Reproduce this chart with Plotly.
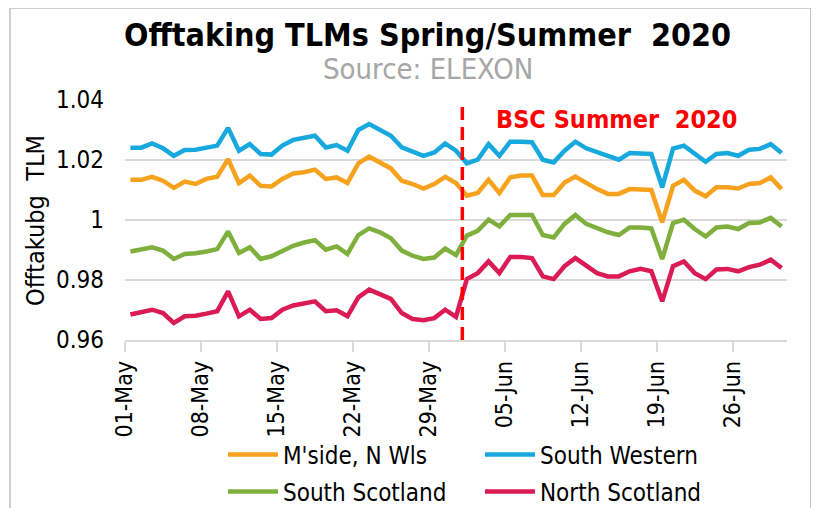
import pandas as pd
import plotly.graph_objects as go

start_date = "2020-05-01"
n_days = 61

south_western = [1.0241, 1.0241, 1.0255, 1.0239, 1.0214, 1.0233, 1.0234, 1.0241, 1.0248, 1.0307,
                 1.0231, 1.0253, 1.0220, 1.0218, 1.0248, 1.0267, 1.0273, 1.0281, 1.0242, 1.0250,
                 1.0231, 1.0300, 1.0320, 1.0300, 1.0281, 1.0242, 1.0229, 1.0214, 1.0225, 1.0255,
                 1.0231, 1.0189, 1.0201, 1.0253, 1.0214, 1.0261, 1.0261, 1.0259, 1.0201, 1.0192,
                 1.0231, 1.0261, 1.0239, 1.0225, 1.0211, 1.0201, 1.0223, 1.0223, 1.0220, 1.0109,
                 1.0238, 1.0248, 1.0220, 1.0194, 1.0220, 1.0223, 1.0214, 1.0234, 1.0237, 1.0253, 1.0223]

mside_n_wls = [1.0134, 1.0134, 1.0144, 1.0131, 1.0107, 1.0128, 1.0120, 1.0137, 1.0144, 1.0203,
               1.0123, 1.0148, 1.0114, 1.0112, 1.0137, 1.0155, 1.0159, 1.0168, 1.0137, 1.0142,
               1.0123, 1.0189, 1.0211, 1.0192, 1.0172, 1.0131, 1.0120, 1.0105, 1.0120, 1.0144,
               1.0123, 1.0081, 1.0090, 1.0134, 1.0090, 1.0142, 1.0148, 1.0148, 1.0083, 1.0083,
               1.0125, 1.0145, 1.0123, 1.0103, 1.0087, 1.0087, 1.0103, 1.0103, 1.0100, 0.9992,
               1.0114, 1.0134, 1.0098, 1.0079, 1.0109, 1.0109, 1.0105, 1.0120, 1.0123, 1.0142, 1.0103]

south_scotland = [0.9895, 0.9903, 0.9909, 0.9898, 0.9870, 0.9887, 0.9889, 0.9895, 0.9903, 0.9962,
                  0.9890, 0.9909, 0.9870, 0.9879, 0.9898, 0.9914, 0.9925, 0.9933, 0.9901, 0.9912,
                  0.9887, 0.9950, 0.9972, 0.9959, 0.9939, 0.9898, 0.9881, 0.9870, 0.9875, 0.9905,
                  0.9883, 0.9948, 0.9964, 1.0001, 0.9979, 1.0017, 1.0017, 1.0017, 0.9950, 0.9942,
                  0.9987, 1.0017, 0.9987, 0.9972, 0.9959, 0.9950, 0.9975, 0.9975, 0.9972, 0.9870,
                  0.9990, 1.0001, 0.9970, 0.9945, 0.9975, 0.9978, 0.9970, 0.9990, 0.9992, 1.0007, 0.9978]

north_scotland = [0.9685, 0.9692, 0.9701, 0.9690, 0.9657, 0.9679, 0.9681, 0.9688, 0.9696, 0.9762,
                  0.9679, 0.9701, 0.9670, 0.9673, 0.9701, 0.9715, 0.9723, 0.9729, 0.9696, 0.9699,
                  0.9679, 0.9742, 0.9768, 0.9753, 0.9737, 0.9690, 0.9670, 0.9666, 0.9673, 0.9701,
                  0.9677, 0.9803, 0.9823, 0.9862, 0.9823, 0.9877, 0.9877, 0.9873, 0.9812, 0.9803,
                  0.9846, 0.9873, 0.9846, 0.9823, 0.9812, 0.9812, 0.9829, 0.9837, 0.9829, 0.9729,
                  0.9846, 0.9862, 0.9823, 0.9803, 0.9835, 0.9837, 0.9829, 0.9843, 0.9851, 0.9868, 0.9840]

tick_dates = ["2020-05-01", "2020-05-08", "2020-05-15", "2020-05-22", "2020-05-29",
              "2020-06-05", "2020-06-12", "2020-06-19", "2020-06-26"]
tick_labels = ["01-May", "08-May", "15-May", "22-May", "29-May",
               "05-Jun", "12-Jun", "19-Jun", "26-Jun"]
y_ticks = [0.96, 0.98, 1.0, 1.02, 1.04]
y_tick_labels = ["0.96", "0.98", "1", "1.02", "1.04"]

dates = pd.date_range(start_date, periods=n_days, freq="D")
half_day = pd.Timedelta(hours=12)
tickvals = [d - half_day for d in pd.to_datetime(tick_dates)]

FONT = "Liberation Sans Narrow, DejaVu Sans Condensed, Arial Narrow, sans-serif"

series = [
    ("M'side, N Wls", mside_n_wls, "#F7A21D", "legend"),
    ("South Western", south_western, "#17A8DE", "legend"),
    ("South Scotland", south_scotland, "#7FB03E", "legend2"),
    ("North Scotland", north_scotland, "#DA1B56", "legend2"),
]

fig = go.Figure()
for name, vals, color, lg in series:
    fig.add_trace(go.Scatter(x=dates, y=vals, name=name, mode="lines",
                             line=dict(color=color, width=4.5), legend=lg))

leg_common = dict(orientation="h", xanchor="left", yanchor="middle", yref="container",
                  entrywidth=192, entrywidthmode="pixels", font=dict(size=24), itemwidth=50,
                  bgcolor="rgba(0,0,0,0)")
fig.update_layout(
    width=819, height=508,
    margin=dict(l=117, r=40, t=92, b=176, autoexpand=False),
    paper_bgcolor="white", plot_bgcolor="white",
    font=dict(family=FONT, size=22, color="black"),
    showlegend=True,
    legend=dict(x=0.148, y=1 - 447 / 508, **leg_common),
    legend2=dict(x=0.148, y=1 - 484 / 508, **leg_common),
)

fig.update_xaxes(
    range=[dates[0] - half_day, dates[-1] + half_day],
    tickvals=tickvals, ticktext=tick_labels, tickangle=-90,
    showgrid=False, showline=True, linecolor="#D9D9D9", linewidth=1.5,
    ticks="outside", ticklen=10, tickcolor="#D9D9D9", tickwidth=1.5,
    tickfont=dict(size=23), zeroline=False, automargin=False,
)
fig.update_yaxes(
    range=[0.96, 1.04], tickvals=y_ticks, ticktext=y_tick_labels,
    showgrid=True, gridcolor="#D9D9D9", gridwidth=1.5,
    showline=False, zeroline=False, ticks="", ticklabelstandoff=20,
    tickfont=dict(size=24), automargin=False,
)

# vertical dashed line at start of BSC summer
fig.add_shape(type="line", xref="x", yref="paper",
              x0=pd.Timestamp("2020-05-31 14:00"), x1=pd.Timestamp("2020-05-31 14:00"),
              y0=0, y1=1, line=dict(color="#FF0000", width=3.5, dash="13px,7px"))

# chart border
fig.add_shape(type="rect", xref="paper", yref="paper",
              x0=-0.1737, x1=1.036, y0=-0.8, y1=1.383,
              line=dict(color="#BFBFBF", width=1.5), fillcolor="rgba(0,0,0,0)", layer="below")

fig.add_annotation(text="<b>Offtaking TLMs Spring/Summer\u00a0 2020</b>", xref="paper", yref="paper",
                   x=0.457, y=1.271, xanchor="center", yanchor="middle", showarrow=False,
                   font=dict(size=32, color="black"))
fig.add_annotation(text="Source: ELEXON", xref="paper", yref="paper",
                   x=0.457, y=1.13, xanchor="center", yanchor="middle", showarrow=False,
                   font=dict(size=29, color="#A6A6A6"))
fig.add_annotation(text="<b>BSC Summer\u00a0 2020</b>", xref="paper", yref="paper",
                   x=0.558, y=0.917, xanchor="left", yanchor="middle", showarrow=False,
                   font=dict(size=25, color="#FF0000"))
fig.add_annotation(text="Offtakubg\u00a0 TLM", xref="paper", yref="paper",
                   x=-0.136, y=0.5, xanchor="center", yanchor="middle", textangle=-90,
                   showarrow=False, font=dict(size=25, color="black"))

fig.write_html("out.html")
